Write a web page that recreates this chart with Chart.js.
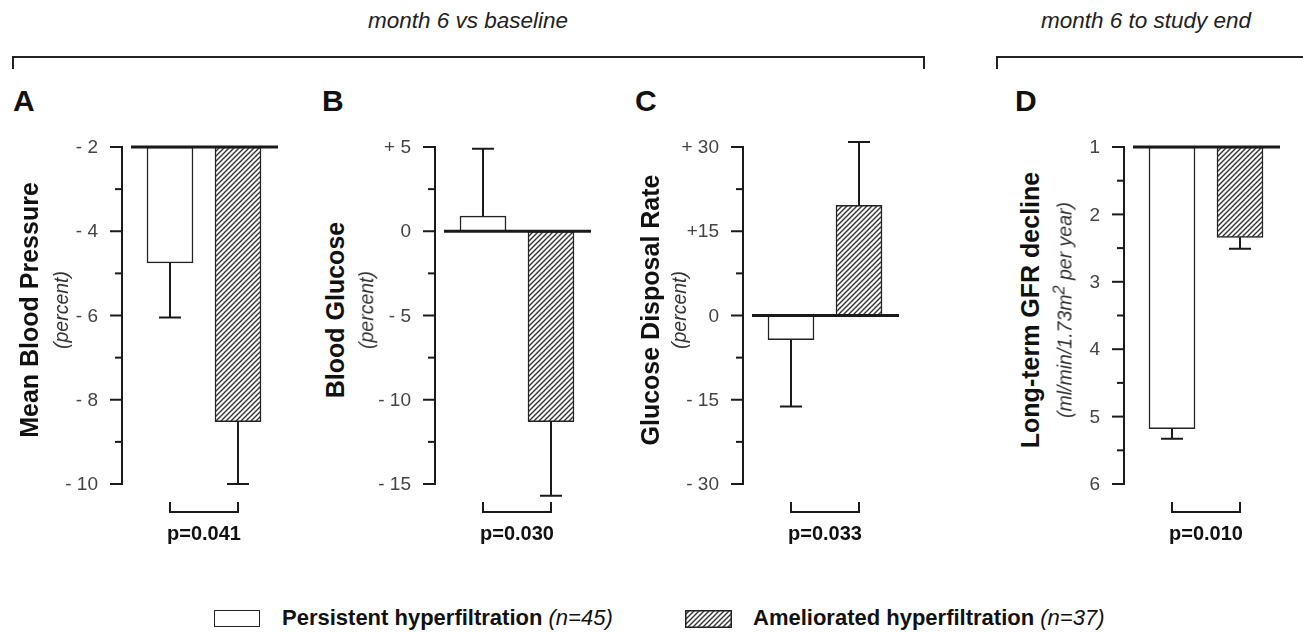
<!DOCTYPE html>
<html>
<head>
<meta charset="utf-8">
<script src="https://cdn.jsdelivr.net/npm/chart.js@4"></script>
<style>
  body { margin: 0; background: #fff; font-family: 'Liberation Sans', Arial, sans-serif; color: #222; }
  #page { position: relative; width: 1303px; height: 632px; overflow: hidden; }
  .abs { position: absolute; white-space: nowrap; }
  .letter { font-weight: bold; font-size: 30px; color: #111; }
  .head { font-style: italic; font-size: 22.5px; color: #222; transform: translateX(-50%); }
  .ytitle { transform: translate(-50%, -50%) rotate(-90deg); text-align: center; line-height: 1; }
  .ytitle b { font-size: 25px; color: #111; }
  .ytitle i { font-size: 19.5px; color: #333; }
  .pval { font-weight: bold; font-size: 20px; color: #111; transform: translateX(-50%); }
  .legend { font-size: 22px; font-weight: bold; color: #111; }
  .legend i { font-weight: normal; }
  canvas { position: absolute; }
</style>
</head>
<body>
<div id="page">
  <div class="abs head" style="left:468px;top:8px">month 6 vs baseline</div>
  <div class="abs head" style="left:1146px;top:8px">month 6 to study end</div>
  <div class="abs" style="left:12px;top:56px;width:909px;height:11px;border:2px solid #222;border-bottom:none"></div>
  <div class="abs" style="left:996px;top:56px;width:320px;height:11px;border:2px solid #222;border-bottom:none;border-right:none"></div>
</div>
<script>
const groups = ['Persistent hyperfiltration', 'Ameliorated hyperfiltration']
const groupN = ['(n=45)', '(n=37)']
const panels = ['A', 'B', 'C', 'D']
const titles = ['Mean Blood Pressure', 'Blood Glucose', 'Glucose Disposal Rate', 'Long-term GFR decline']
const subtitles = ['(percent)', '(percent)', '(percent)', '(ml/min/1.73m<sup>2</sup> per year)']
const baselines = [-2, 0, 0, 1]
const persistentValues = [-4.75, 0.9, -4.3, 5.18]
const persistentErrors = [-6.05, 4.9, -16.2, 5.33]
const amelioratedValues = [-8.52, -11.3, 19.6, 2.34]
const amelioratedErrors = [-10, -15.7, 30.9, 2.51]
const pValues = ['p=0.041', 'p=0.030', 'p=0.033', 'p=0.010']
const tickValues = [
  [-2, -4, -6, -8, -10],
  [5, 0, -5, -10, -15],
  [30, 15, 0, -15, -30],
  [1, 2, 3, 4, 5, 6],
]
const tickLabels = [
  ['- 2', '- 4', '- 6', '- 8', '- 10'],
  ['+ 5', '0', '- 5', '- 10', '- 15'],
  ['+ 30', '+15', '0', '- 15', '- 30'],
  ['1', '2', '3', '4', '5', '6'],
]

const axisX = [122, 435, 743, 1124]
const letterX = [13, 322, 635, 1015]
const titleX = [29, 335, 650, 1030]
const subX = [62, 367, 680, 1062]
const TOP = 147
const BOTTOM = 484

const page = document.getElementById('page')

const makeHatch = () => {
  const c = document.createElement('canvas')
  c.width = 5
  c.height = 5
  const g = c.getContext('2d')
  g.fillStyle = '#fff'
  g.fillRect(0, 0, 5, 5)
  g.strokeStyle = '#333'
  g.lineWidth = 1.4
  g.beginPath()
  g.moveTo(-1, 6); g.lineTo(6, -1)
  g.moveTo(-1, 1); g.lineTo(1, -1)
  g.moveTo(4, 6); g.lineTo(6, 4)
  g.stroke()
  return g.createPattern(c, 'repeat')
}
const hatch = makeHatch()

const addDiv = (cls, style, html) => {
  const d = document.createElement('div')
  d.className = 'abs ' + cls
  d.style.cssText = style
  d.innerHTML = html
  page.appendChild(d)
}

// ticks + labels, baseline, error bars, p bracket
const decorPlugin = {
  id: 'decor',
  afterDatasetsDraw(chart, args, opts) {
    const { ctx, scales } = chart
    const x = scales.x, y = scales.y
    const left = chart.chartArea.left
    ctx.save()
    ctx.strokeStyle = '#1a1a1a'
    ctx.lineWidth = 2
    ctx.fillStyle = '#444'
    ctx.font = "19px 'Liberation Sans', Arial, sans-serif"
    ctx.textAlign = 'right'
    ctx.textBaseline = 'middle'
    const vals = opts.ticks
    const step = vals[1] - vals[0]
    for (let i = 0; i < vals.length; i++) {
      const py = y.getPixelForValue(vals[i])
      ctx.beginPath(); ctx.moveTo(left - 12, py); ctx.lineTo(left, py); ctx.stroke()
      ctx.fillText(opts.labels[i], left - 24, py + 1)
      if (i < vals.length - 1) {
        const my = y.getPixelForValue(vals[i] + step / 2)
        ctx.beginPath(); ctx.moveTo(left - 7, my); ctx.lineTo(left, my); ctx.stroke()
      }
    }
    opts.bars.forEach((b) => {
      const px = x.getPixelForValue(b.x)
      const y0 = y.getPixelForValue(b.v)
      const y1 = y.getPixelForValue(b.e)
      ctx.beginPath(); ctx.moveTo(px, y0); ctx.lineTo(px, y1)
      ctx.moveTo(px - 11, y1); ctx.lineTo(px + 11, y1); ctx.stroke()
    })
    ctx.lineWidth = 3
    const by = y.getPixelForValue(opts.base)
    ctx.beginPath(); ctx.moveTo(left + 9, by); ctx.lineTo(left + 156, by); ctx.stroke()
    ctx.lineWidth = 2
    const bx0 = x.getPixelForValue(1), bx1 = x.getPixelForValue(2)
    const bt = y.bottom + 18, bb = y.bottom + 28
    ctx.beginPath(); ctx.moveTo(bx0, bt); ctx.lineTo(bx0, bb); ctx.lineTo(bx1, bb); ctx.lineTo(bx1, bt); ctx.stroke()
    ctx.restore()
  },
}

panels.forEach((p, i) => {
  const canvas = document.createElement('canvas')
  const cLeft = axisX[i] - 80
  const cTop = 130
  canvas.style.left = cLeft + 'px'
  canvas.style.top = cTop + 'px'
  canvas.style.width = '260px'
  canvas.style.height = '400px'
  canvas.width = 260
  canvas.height = 400
  page.appendChild(canvas)

  const vals = tickValues[i]
  const hi = Math.max(...vals), lo = Math.min(...vals)
  const base = baselines[i]

  new Chart(canvas.getContext('2d'), {
    type: 'bar',
    data: {
      datasets: [
        {
          label: groups[0],
          data: [{ x: 1, y: [base, persistentValues[i]] }],
          backgroundColor: '#fff',
          borderColor: '#222',
          borderWidth: 1.5,
          borderSkipped: false,
          barThickness: 46,
          grouped: false,
        },
        {
          label: groups[1],
          data: [{ x: 2, y: [base, amelioratedValues[i]] }],
          backgroundColor: hatch,
          borderColor: '#222',
          borderWidth: 1.5,
          borderSkipped: false,
          barThickness: 46,
          grouped: false,
        },
      ],
    },
    options: {
      responsive: false,
      animation: false,
      layout: { padding: { top: TOP - cTop, bottom: cTop + 400 - BOTTOM, right: 20 } },
      plugins: {
        legend: { display: false },
        tooltip: { enabled: false },
        decor: {
          ticks: vals,
          labels: tickLabels[i],
          base,
          bars: [
            { x: 1, v: persistentValues[i], e: persistentErrors[i] },
            { x: 2, v: amelioratedValues[i], e: amelioratedErrors[i] },
          ],
        },
      },
      scales: {
        x: {
          type: 'linear',
          display: false,
          offset: false,
          min: 1 - 48 / 68,
          max: 2 + 44 / 68,
        },
        y: {
          min: lo,
          max: hi,
          reverse: i === 3,
          afterFit(scale) { scale.width = 80 },
          afterBuildTicks(scale) { scale.ticks = vals.map((v) => ({ value: v })) },
          grid: { display: false },
          border: { display: true, color: '#1a1a1a', width: 2 },
          ticks: { display: false },
        },
      },
    },
    plugins: [decorPlugin],
  })

  addDiv('letter', `left:${letterX[i]}px;top:84px`, p)
  addDiv('ytitle', `left:${titleX[i]}px;top:310px`, `<b>${titles[i]}</b>`)
  addDiv('ytitle', `left:${subX[i]}px;top:310px`, `<i>${subtitles[i]}</i>`)
  addDiv('pval', `left:${axisX[i] + 82}px;top:522px`, pValues[i])
})

// legend
addDiv('', 'left:214px;top:610px;width:44px;height:15px;border:1.5px solid #222;background:#fff', '')
addDiv('legend', 'left:282px;top:605px', `${groups[0]} <i>${groupN[0]}</i>`)
const lg = document.createElement('canvas')
lg.width = 47; lg.height = 18
lg.style.left = '685px'; lg.style.top = '610px'
page.appendChild(lg)
const lctx = lg.getContext('2d')
lctx.fillStyle = hatch
lctx.fillRect(0, 0, 47, 18)
lctx.strokeStyle = '#222'; lctx.lineWidth = 1.5
lctx.strokeRect(0.75, 0.75, 45.5, 16.5)
addDiv('legend', 'left:753px;top:605px', `${groups[1]} <i>${groupN[1]}</i>`)
</script>
</body>
</html>
